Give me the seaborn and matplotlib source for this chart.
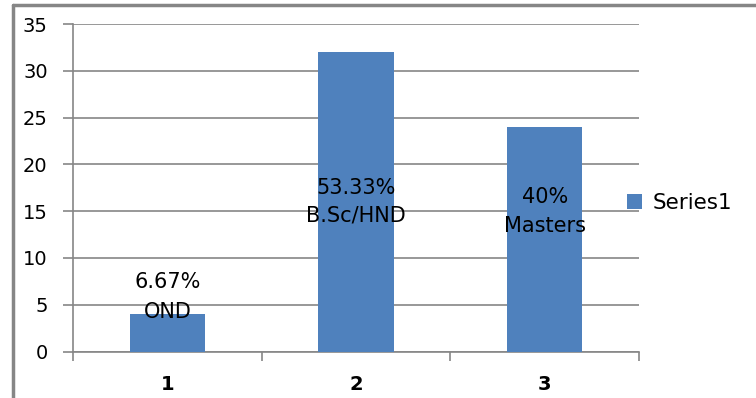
import matplotlib
matplotlib.use("Agg")
import matplotlib.pyplot as plt
from matplotlib.lines import Line2D
from matplotlib.patches import Patch
import seaborn as sns
import pandas as pd

# Qualification breakdown
categories = ["1", "2", "3"]
counts = [4, 32, 24]
percent_labels = ["6.67%", "53.33%", "40%"]
level_labels = ["OND", "B.Sc/HND", "Masters"]
series_name = "Series1"
y_ticks = [0, 5, 10, 15, 20, 25, 30, 35]

df = pd.DataFrame({"category": categories, "count": counts})

sns.set_theme(style="white")
plt.rcParams["font.family"] = ["DejaVu Sans"]
plt.rcParams["text.color"] = "black"

BAR = "#4F81BD"
GRID = "#868686"

fig = plt.figure(figsize=(7.56, 3.98), dpi=100)
ax = fig.add_axes([73 / 756, 1 - 351.5 / 398, (639 - 73) / 756, (351.5 - 24) / 398])

sns.barplot(data=df, x="category", y="count", color=BAR, width=0.4,
            saturation=1, linewidth=0, ax=ax, zorder=3)

ax.set_ylim(0, 35)
ax.set_xlim(-0.5, 2.5)
ax.set_yticks(y_ticks)
ax.set_yticklabels([str(t) for t in y_ticks], fontsize=14, color="black")
ax.yaxis.grid(True, color=GRID, linewidth=1.2, zorder=0)
ax.set_axisbelow(True)
ax.set_xlabel("")
ax.set_ylabel("")

ax.set_xticks(range(len(categories)))
ax.set_xticklabels(categories, fontsize=14, fontweight="bold", color="black")
ax.set_xticks([-0.5, 0.5, 1.5, 2.5], minor=True)
ax.tick_params(axis="x", which="major", length=0, pad=17)
ax.tick_params(axis="x", which="minor", direction="out", length=6.5,
               width=1.2, color=GRID, bottom=True)
ax.tick_params(axis="y", which="major", direction="out", length=7.2,
               width=1.2, color=GRID, left=True, pad=11)

for side in ["top", "right"]:
    ax.spines[side].set_visible(False)
for side in ["left", "bottom"]:
    ax.spines[side].set_color(GRID)
    ax.spines[side].set_linewidth(1.2)

# Percentage and level annotations on each bar
pct_y = [7.4, 17.5, 16.5]
lvl_y = [4.2, 14.5, 13.4]
for i, (pct, lvl) in enumerate(zip(percent_labels, level_labels)):
    ax.text(i, pct_y[i], pct, ha="center", va="center", fontsize=15,
            color="black", zorder=4)
    ax.text(i, lvl_y[i], lvl, ha="center", va="center", fontsize=15,
            color="black", zorder=4)

# Legend to the right of the plot area
handle = Patch(facecolor=BAR, edgecolor="none")
leg = fig.legend([handle], [series_name], loc="center left",
                 bbox_to_anchor=(608 / 756, 1 - 203 / 398), frameon=False,
                 fontsize=15.5, handlelength=0.7, handleheight=0.7,
                 handletextpad=0.45)
for t in leg.get_texts():
    t.set_color("black")

# Outer chart frame (left and top edges)
fig.add_artist(Line2D([12.5 / 756, 12.5 / 756], [0, 1 - 5 / 398],
                      transform=fig.transFigure, color=GRID, linewidth=2.5))
fig.add_artist(Line2D([12.5 / 756, 1], [1 - 5 / 398, 1 - 5 / 398],
                      transform=fig.transFigure, color=GRID, linewidth=2.5))

fig.savefig("out.png", dpi=100)
